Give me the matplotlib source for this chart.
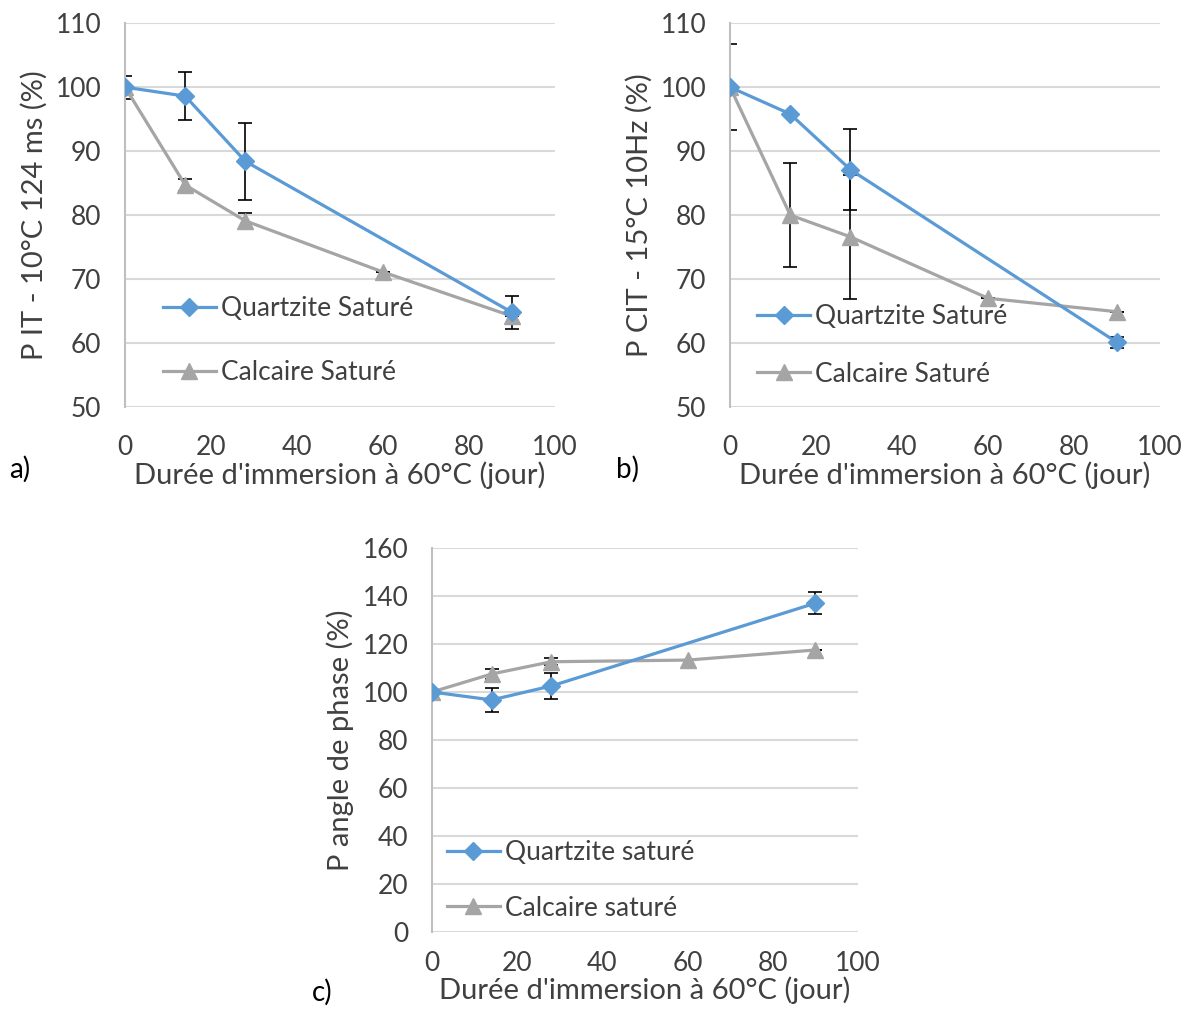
import matplotlib
matplotlib.use("Agg")
import matplotlib.pyplot as plt

plt.rcParams['font.family'] = ['Lato', 'DejaVu Sans']

# Données
jours = [0, 14, 28, 60, 90]
jours_q = [0, 14, 28, 90]

# a) P IT - 10°C 124 ms
a_quartz = [100, 98.6, 88.4, 64.8]
a_quartz_err = [1.8, 3.8, 6.0, 2.6]
a_calc = [100, 84.7, 79.1, 71.1, 64.2]
a_calc_err = [0, 1.0, 1.2, 0, 0]

# b) P CIT - 15°C 10Hz
b_quartz = [100, 95.8, 87.1, 60.1]
b_quartz_err = [6.7, 0, 6.3, 0.8]
b_calc = [100, 80.0, 76.6, 67.0, 64.9]
b_calc_err = [0, 8.1, 9.7, 0, 0]

# c) P angle de phase
c_quartz = [100, 96.7, 102.5, 137.0]
c_quartz_err = [0, 5.0, 5.4, 4.7]
c_calc = [100, 107.5, 112.6, 113.3, 117.5]
c_calc_err = [0, 2.2, 1.5, 0, 0]

BLEU = '#5B9BD5'
GRIS = '#A5A5A5'
TXT = '#404040'
FS = 19

fig = plt.figure(figsize=(11.91, 10.09), dpi=100)


def panneau(rect, q, qerr, c, cerr, ylim, yticks, ylabel, labels, leg_anchor, spacing,
            lettre, lettre_pos, xpad=20, xlabelpad=1):
    ax = fig.add_axes(rect)
    ax.errorbar(jours, c, yerr=cerr, fmt='none', ecolor='black', elinewidth=1.2,
                capsize=5, capthick=1.2, zorder=2)
    ax.errorbar(jours_q, q, yerr=qerr, fmt='none', ecolor='black', elinewidth=1.2,
                capsize=5, capthick=1.2, zorder=2)
    ax.plot(jours_q, q, color=BLEU, lw=2.3, marker='D', ms=9, label=labels[0], zorder=4)
    ax.plot(jours, c, color=GRIS, lw=2.3, marker='^', ms=12, label=labels[1], zorder=3)
    ax.set_xlim(0, 100)
    ax.set_ylim(*ylim)
    ax.set_xticks([0, 20, 40, 60, 80, 100])
    ax.set_yticks(yticks)
    ax.grid(axis='y', color='#D9D9D9', lw=1.5)
    ax.set_axisbelow(True)
    for s in ['top', 'right', 'bottom']:
        ax.spines[s].set_visible(False)
    ax.spines['left'].set_color('#BFBFBF')
    ax.spines['left'].set_linewidth(1.5)
    ax.tick_params(length=0, labelsize=FS, colors=TXT)
    ax.tick_params(axis='y', pad=17)
    ax.tick_params(axis='x', pad=xpad)
    ax.set_ylabel(ylabel, fontsize=FS + 2, color=TXT, labelpad=6)
    ax.set_xlabel("Durée d'immersion à 60°C (jour)", fontsize=FS + 2, color=TXT,
                  labelpad=xlabelpad)
    ax.legend(loc='center left', bbox_to_anchor=leg_anchor, frameon=False, fontsize=FS,
              labelspacing=spacing, handlelength=2.0, handletextpad=0.2, borderaxespad=0,
              borderpad=0, labelcolor=TXT)
    fig.text(lettre_pos[0], lettre_pos[1], lettre, fontsize=FS + 1, color='black')
    return ax


panneau([0.105, 0.5966, 0.361, 0.3804], a_quartz, a_quartz_err, a_calc, a_calc_err,
        (50, 110), range(50, 111, 10), 'P IT - 10°C 124 ms (%)',
        ['Quartzite Saturé', 'Calcaire Saturé'], (0.088, 0.173), 1.45, 'a)', (0.008, 0.527))
panneau([0.613, 0.5966, 0.361, 0.3804], b_quartz, b_quartz_err, b_calc, b_calc_err,
        (50, 110), range(50, 111, 10), 'P CIT - 15°C 10Hz (%)',
        ['Quartzite Saturé', 'Calcaire Saturé'], (0.063, 0.161), 1.25, 'b)', (0.517, 0.527))
panneau([0.3627, 0.0763, 0.3577, 0.3806], c_quartz, c_quartz_err, c_calc, c_calc_err,
        (0, 160), range(0, 161, 20), 'P angle de phase (%)',
        ['Quartzite saturé', 'Calcaire saturé'], (0.035, 0.134), 1.15, 'c)', (0.262, 0.008),
        xpad=14, xlabelpad=0)

fig.savefig('out.png', dpi=100)
